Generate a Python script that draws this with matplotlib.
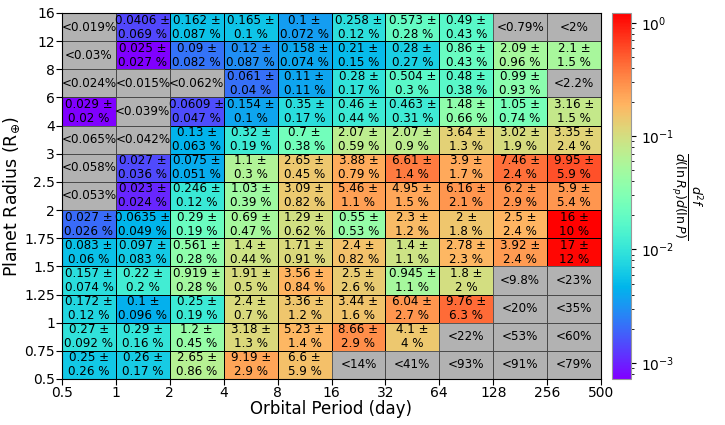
import numpy as np
import matplotlib
matplotlib.use("Agg")
import matplotlib.pyplot as plt
from matplotlib.colors import LogNorm, ListedColormap

# bin edges
period_edges = [0.5, 1, 2, 4, 8, 16, 32, 64, 128, 256, 500]
radius_edges = [0.5, 0.75, 1, 1.25, 1.5, 1.75, 2, 2.5, 3, 4, 6, 8, 12, 16]
period_labels = ["0.5", "1", "2", "4", "8", "16", "32", "64", "128", "256", "500"]
radius_labels = ["0.5", "0.75", "1", "1.25", "1.5", "1.75", "2", "2.5", "3", "4", "6", "8", "12", "16"]

# occurrence (%) per cell, rows from smallest radius bin upward
occ = [
    [0.25, 0.26, 2.65, 9.19, 6.6, 14, 41, 93, 91, 79],
    [0.27, 0.29, 1.2, 3.18, 5.23, 8.66, 4.1, 22, 53, 60],
    [0.172, 0.1, 0.25, 2.4, 3.36, 3.44, 6.04, 9.76, 20, 35],
    [0.157, 0.22, 0.919, 1.91, 3.56, 2.5, 0.945, 1.8, 9.8, 23],
    [0.083, 0.097, 0.561, 1.4, 1.71, 2.4, 1.4, 2.78, 3.92, 17],
    [0.027, 0.0635, 0.29, 0.69, 1.29, 0.55, 2.3, 2, 2.5, 16],
    [0.053, 0.023, 0.246, 1.03, 3.09, 5.46, 4.95, 6.16, 6.2, 5.9],
    [0.058, 0.027, 0.075, 1.1, 2.65, 3.88, 6.61, 3.9, 7.46, 9.95],
    [0.065, 0.042, 0.13, 0.32, 0.7, 2.07, 2.07, 3.64, 3.02, 3.35],
    [0.029, 0.039, 0.0609, 0.154, 0.35, 0.46, 0.463, 1.48, 1.05, 3.16],
    [0.024, 0.015, 0.062, 0.061, 0.11, 0.28, 0.504, 0.48, 0.99, 2.2],
    [0.03, 0.025, 0.09, 0.12, 0.158, 0.21, 0.28, 0.86, 2.09, 2.1],
    [0.019, 0.0406, 0.162, 0.165, 0.1, 0.258, 0.573, 0.49, 0.79, 2],
]

# 1-sigma error (%); None marks an upper limit
err = [
    [0.26, 0.17, 0.86, 2.9, 5.9, None, None, None, None, None],
    [0.092, 0.16, 0.45, 1.3, 1.4, 2.9, 4, None, None, None],
    [0.12, 0.096, 0.19, 0.7, 1.2, 1.6, 2.7, 6.3, None, None],
    [0.074, 0.2, 0.28, 0.5, 0.84, 2.6, 1.1, 2, None, None],
    [0.06, 0.083, 0.28, 0.44, 0.91, 0.82, 1.1, 2.3, 2.4, 12],
    [0.026, 0.049, 0.19, 0.47, 0.62, 0.53, 1.2, 1.8, 2.4, 10],
    [None, 0.024, 0.12, 0.39, 0.82, 1.1, 1.5, 2.1, 2.9, 5.4],
    [None, 0.036, 0.051, 0.3, 0.45, 0.79, 1.4, 1.7, 2.4, 5.9],
    [None, None, 0.063, 0.19, 0.38, 0.59, 0.9, 1.3, 1.9, 2.4],
    [0.02, None, 0.047, 0.1, 0.17, 0.44, 0.31, 0.66, 0.74, 1.5],
    [None, None, None, 0.04, 0.11, 0.17, 0.3, 0.38, 0.93, None],
    [None, 0.027, 0.082, 0.087, 0.074, 0.15, 0.27, 0.43, 0.96, 1.5],
    [None, 0.069, 0.087, 0.1, 0.072, 0.12, 0.28, 0.43, None, None],
]

occ_arr = np.array(occ, dtype=float)
is_limit = np.array([[e is None for e in row] for row in err])

# occurrence density: per ln R and per octave in P
dlogP = np.diff(np.log2(period_edges))
dlnR = np.diff(np.log(radius_edges))
density = occ_arr / 100.0 / np.outer(dlnR, dlogP)

nx, ny = len(dlogP), len(dlnR)
xg = np.arange(nx + 1)
yg = np.arange(ny + 1)

fig = plt.figure(figsize=(7.25, 4.25), dpi=100)
ax = fig.add_axes([62 / 725, 46 / 425, 539 / 725, 366 / 425])

norm = LogNorm(vmin=7.2e-4, vmax=1.22)
colored = np.ma.masked_where(is_limit, density)
mesh = ax.pcolormesh(xg, yg, colored, cmap="rainbow", norm=norm,
                     edgecolors="k", linewidth=0.6)

# upper-limit cells in grey, on top
grey = np.ma.masked_where(~is_limit, np.ones_like(density))
ax.pcolormesh(xg, yg, grey, cmap=ListedColormap(["#b2b2b2"]),
              edgecolors="none")
for j in range(ny):
    for i in range(nx):
        if is_limit[j, i]:
            ax.add_patch(plt.Rectangle((i, j), 1, 1, fill=False,
                                       edgecolor="#484848", linewidth=0.6))

for j in range(ny):
    for i in range(nx):
        if is_limit[j, i]:
            label = f"<{occ[j][i]:g}%"
        else:
            label = f"{occ[j][i]:g} \u00b1\n{err[j][i]:g} %"
        ax.text(i + 0.5, j + 0.5, label, ha="center", va="center",
                multialignment="center", fontsize=8.6, linespacing=1.1)

ax.set_xlim(0, nx)
ax.set_ylim(0, ny)
ax.set_xticks(xg)
ax.set_xticklabels(period_labels, fontsize=10)
ax.set_yticks(yg)
ax.set_yticklabels(radius_labels, fontsize=10)
ax.tick_params(length=4, pad=1)
ax.set_xlabel("Orbital Period (day)", fontsize=12, labelpad=0)
ax.set_ylabel(r"Planet Radius (R$_{\oplus}$)", fontsize=12.5, labelpad=2)

cax = fig.add_axes([612 / 725, 46 / 425, 19 / 725, 366 / 425])
cb = fig.colorbar(mesh, cax=cax)
cb.ax.tick_params(labelsize=10)
cb.outline.set_edgecolor("#999999")
cb.set_label(r"$\frac{d^2f}{d(\ln R_p)d(\ln P)}$", rotation=270,
             fontsize=13, labelpad=22)

fig.savefig("out.png", dpi=100)
